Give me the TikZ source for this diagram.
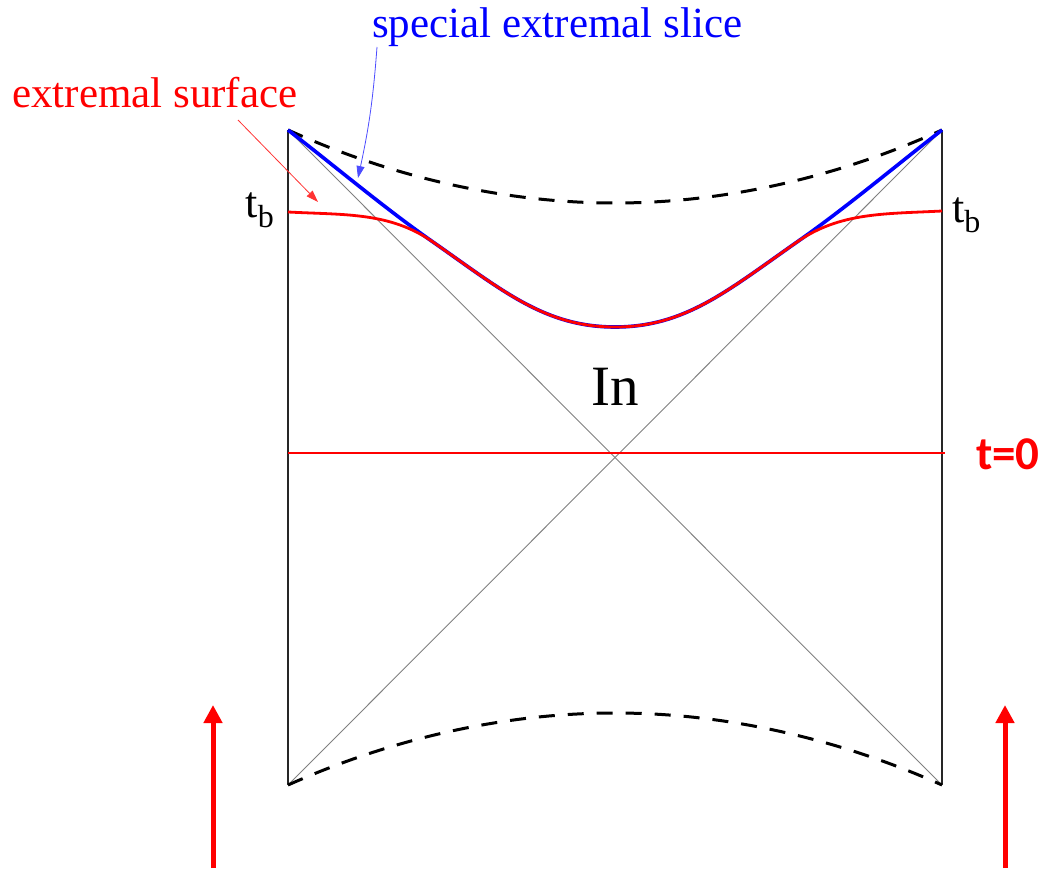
\documentclass[tikz,border=0pt]{standalone}
\usepackage{fontspec}
\setmainfont{Liberation Serif}
\newfontfamily\sanslabel{Carlito}
\usetikzlibrary{arrows.meta}

\newcommand{\tblabel}{{\fontsize{44}{50}\selectfont t}\raisebox{-10pt}{\fontsize{32}{36}\selectfont b}}

\begin{document}
\begin{tikzpicture}[x=1pt,y=-1pt,
  wall/.style={line width=2.4pt,black!85},
  horizon/.style={line width=0.9pt,gray},
  singular/.style={line width=3pt,dash pattern=on 16pt off 13pt},
  lbl/.style={inner sep=0pt,font=\fontsize{43}{50}\selectfont},
  note/.style={line width=0.8pt,-{Triangle[length=12pt,width=8pt]}},
  bigarrow/.style={red,line width=5pt,-{Triangle[length=18pt,width=18pt]}}]
\useasboundingbox (0,0) rectangle (1045,875);

% corners of the diagram
\coordinate (tl) at (288,130);
\coordinate (tr) at (942,130);
\coordinate (bl) at (288,785);
\coordinate (br) at (942,785);

\draw[wall] (tl) -- (bl);
\draw[wall] (tr) -- (br);
\draw[horizon] (tl) -- (br);
\draw[horizon] (tr) -- (bl);

% singularities
\draw[singular] (tl) parabola bend (615,203) (tr);
\draw[singular] (bl) parabola bend (615,713) (br);

% t=0 slice
\coordinate (zl) at (288,453);
\coordinate (zr) at (945,453);
\draw[red,line width=1.2pt] (zl) -- (zr);

% extremal slices
\draw[blue,line width=3.6pt] (tl) .. controls (336,167) and (383,207) .. (433,242)
  .. controls (503,291) and (545,327) .. (615,327)
  .. controls (685,327) and (727,291) .. (797,242)
  .. controls (847,207) and (894,167) .. (tr);
\draw[red,line width=2.8pt] (288,212) .. controls (345,215) and (390,212) .. (433,242)
  .. controls (503,291) and (545,327) .. (615,327)
  .. controls (685,327) and (727,291) .. (797,242)
  .. controls (840,212) and (885,214) .. (942,211);

% labels
\node[inner sep=0pt,anchor=base east] (tbl) at (274,217) {\tblabel};
\node[inner sep=0pt,anchor=base west] (tbr) at (952,222) {\tblabel};
\node[inner sep=0pt,anchor=base,font=\fontsize{57}{60}\selectfont] (inreg) at (615,405) {In};
\node[inner sep=0pt,anchor=base west,red,font=\sanslabel\bfseries\fontsize{47}{50}\selectfont] (tzero) at (976,469) {t=0};
\node[lbl,anchor=base west,blue] (slice) at (372,38) {special extremal slice};
\node[lbl,anchor=base west,red] (surf) at (12,107) {extremal surface};

% pointers
\coordinate (slicefrom) at (377,47);
\coordinate (sliceto) at (358,178);
\coordinate (surffrom) at (238,120);
\coordinate (surfto) at (318,202);
\draw[note,blue!70] (slicefrom) to[bend left=4] (sliceto);
\draw[note,red!80] (surffrom) -- (surfto);

% time direction
\coordinate (al0) at (213,868);
\coordinate (al1) at (213,705);
\coordinate (ar0) at (1005,868);
\coordinate (ar1) at (1005,705);
\draw[bigarrow] (al0) -- (al1);
\draw[bigarrow] (ar0) -- (ar1);
\end{tikzpicture}
\end{document}
